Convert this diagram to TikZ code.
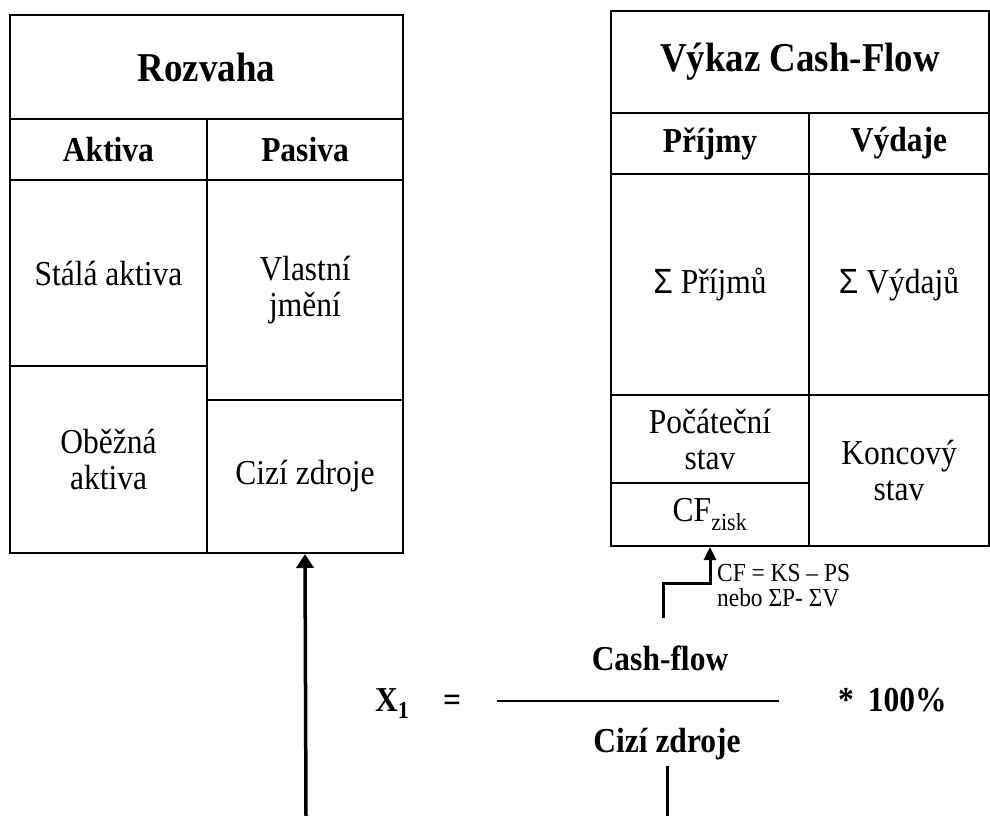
\documentclass[tikz,border=0pt]{standalone}
\usepackage{fontspec}
\setmainfont{Liberation Serif}[FakeStretch=0.9]
\newfontfamily\sigmafont{Liberation Sans}[FakeStretch=0.9]
\usetikzlibrary{arrows.meta,positioning}

\tikzset{
  cell/.style={draw,line width=2pt,inner sep=0pt,align=center,
    font=\fontsize{35}{36}\selectfont},
  headcell/.style={cell,font=\fontsize{35}{36}\selectfont\bfseries},
  titlecell/.style={cell,font=\fontsize{41}{42}\selectfont\bfseries},
  formula/.style={inner sep=0pt,font=\fontsize{35}{36}\selectfont\bfseries},
  bigarrow/.style={line width=3.5pt,-{Triangle[width=17pt,length=14pt]}},
  smallarrow/.style={line width=3pt,-{Triangle[width=12pt,length=13pt]}}
}

\begin{document}
\begin{tikzpicture}[x=1pt,y=-1pt]
\useasboundingbox (0,0) rectangle (990,816);

% Rozvaha
\node[titlecell,minimum width=393pt,minimum height=104pt] (rozvaha) at (206.5,67) {Rozvaha};
\node[headcell,minimum width=197pt,minimum height=61pt] (aktiva) at (108.5,149.5) {Aktiva};
\node[headcell,minimum width=196pt,minimum height=61pt] (pasiva) at (305,149.5) {Pasiva};
\node[cell,minimum width=197pt,minimum height=186pt] (stala) at (108.5,273) {Stálá aktiva};
\node[cell,minimum width=196pt,minimum height=220pt] (vlastni) at (305,290) {Vlastní\\jmění};
\node[cell,minimum width=197pt,minimum height=187pt] (obezna) at (108.5,459.5) {Oběžná\\aktiva};
\node[cell,minimum width=196pt,minimum height=153pt] (cizi) at (305,476.5) {Cizí zdroje};

% Vykaz Cash-Flow
\node[titlecell,minimum width=378pt,minimum height=102pt] (vykaz) at (800,62) {Výkaz Cash-Flow};
\node[headcell,minimum width=198pt,minimum height=61pt] (prijmy) at (710,143.5) {Příjmy};
\node[headcell,minimum width=180pt,minimum height=61pt] (vydaje) at (899,143.5) {Výdaje};
\node[cell,minimum width=198pt,minimum height=221pt] (sprijmu) at (710,284.5) {{\sigmafont Σ} Příjmů};
\node[cell,minimum width=180pt,minimum height=221pt] (svydaju) at (899,284.5) {{\sigmafont Σ} Výdajů};
\node[cell,minimum width=198pt,minimum height=88pt] (pocatek) at (710,439) {Počáteční\\stav};
\node[cell,minimum width=198pt,minimum height=63pt] (zisk) at (710,514.5) {CF\textsubscript{zisk}};
\node[cell,minimum width=180pt,minimum height=151pt] (konec) at (899,470.5) {Koncový\\stav};

% vzorec
\node[formula,anchor=base west] (x1) at (375,711) {X\textsubscript{1}};
\node[formula,anchor=base] (rovno) at (452,711) {=};
\node[formula,anchor=base] (cf) at (660,670) {Cash-flow};
\node[formula,anchor=base] (cz) at (667,752) {Cizí zdroje};
\node[formula,anchor=base west] (sto) at (838,711) {*\hspace{14pt}100\%};
\draw[line width=2pt] (497,701) -- (779,701);

\node[anchor=north west,inner sep=0pt,align=left,font=\fontsize{26}{25}\selectfont] (vztah) at (717,564) {CF = KS – PS\\nebo ΣP- ΣV};

% sipky
\coordinate (dole1) at (306,816);
\coordinate (cfzac) at (663,618);
\coordinate (cfohyb) at (663,583);
\coordinate (dole2) at (667,816);
\draw[bigarrow] (dole1) -- (cizi.south);
\draw[smallarrow] (cfzac) -- (cfohyb) -| (zisk.south);
\draw[line width=3pt] ([yshift=-6pt]cz.south) -- (dole2);
\end{tikzpicture}
\end{document}
